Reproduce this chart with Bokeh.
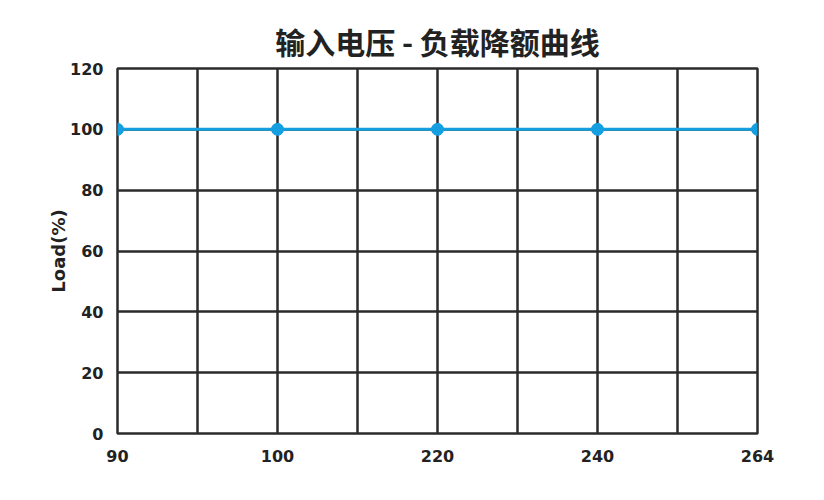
from bokeh.plotting import figure
from bokeh.models import FixedTicker, Range1d
from bokeh.embed import file_html
from bokeh.resources import INLINE

categories = ["90", "100", "220", "240", "264"]
load_values = [100, 100, 100, 100, 100]
y_ticks = [0, 20, 40, 60, 80, 100, 120]

xs = list(range(len(categories)))

p = figure(width=808, height=484, output_backend="svg", toolbar_location=None,
           x_range=Range1d(0, len(categories) - 1), y_range=Range1d(0, 120),
           min_border_left=117, min_border_right=51, min_border_top=68, min_border_bottom=51)

p.title.text = "输入电压 - 负载降额曲线"
p.title.align = "center"
p.title.text_font = "Noto Sans CJK SC"
p.title.text_font_size = "30px"
p.title.text_font_style = "bold"
p.title.text_color = "#222222"
p.title.standoff = 12

dark = "#2b2b2b"
p.outline_line_color = dark
p.outline_line_width = 2.5
p.outline_line_alpha = 1

p.xaxis.ticker = FixedTicker(ticks=xs)
p.xaxis.major_label_overrides = {i: c for i, c in zip(xs, categories)}
p.yaxis.ticker = FixedTicker(ticks=y_ticks)

for ax in (p.xaxis[0], p.yaxis[0]):
    ax.axis_line_color = None
    ax.major_tick_line_color = None
    ax.minor_tick_line_color = None
    ax.major_label_text_font = "DejaVu Sans"
    ax.major_label_text_font_style = "bold"
    ax.major_label_text_font_size = "16px"
    ax.major_label_text_color = "#222222"

p.xaxis.major_label_standoff = 10
p.yaxis.major_label_standoff = 8
p.yaxis.axis_label = "Load(%)"
p.yaxis.axis_label_text_font = "DejaVu Sans"
p.yaxis.axis_label_text_font_style = "bold"
p.yaxis.axis_label_text_font_size = "18px"
p.yaxis.axis_label_text_color = "#222222"
p.yaxis.axis_label_standoff = -2

p.xgrid.ticker = FixedTicker(ticks=[i * 0.5 for i in range(2 * len(categories) - 1)])
p.ygrid.ticker = FixedTicker(ticks=y_ticks)
for g in (p.xgrid[0], p.ygrid[0]):
    g.grid_line_color = dark
    g.grid_line_width = 2.5
    g.grid_line_alpha = 1

color = "#149fe0"
p.line(xs, load_values, line_color=color, line_width=3)
p.scatter(xs, load_values, size=12, fill_color=color, line_color=color)

open("out.html", "w").write(file_html(p, INLINE))
